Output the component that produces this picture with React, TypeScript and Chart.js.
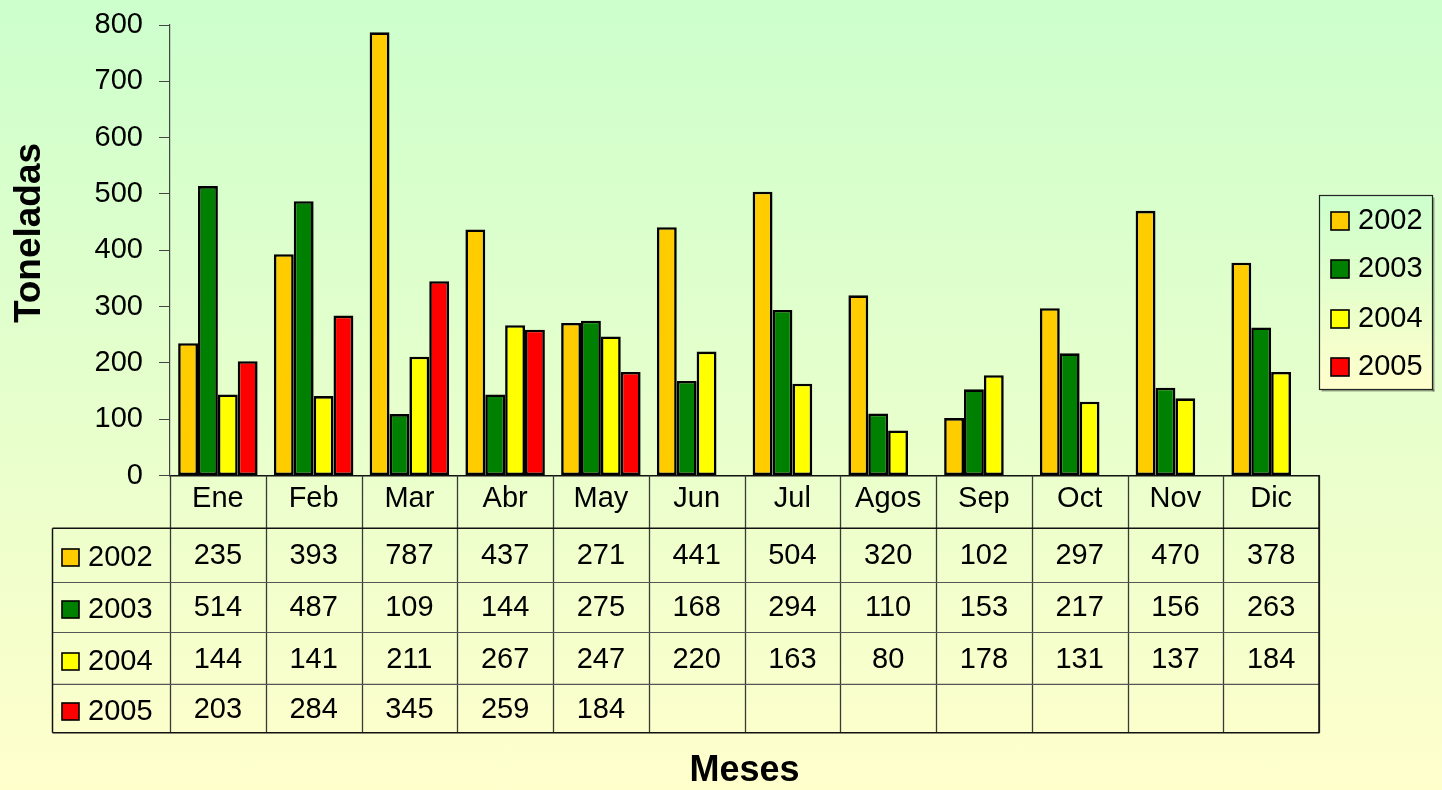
import React, { useEffect, useRef } from "react";
import { Chart, registerables } from "chart.js";

Chart.register(...registerables);

// ---------- data ----------
const months = ["Ene", "Feb", "Mar", "Abr", "May", "Jun", "Jul", "Agos", "Sep", "Oct", "Nov", "Dic"];
const seriesNames = ["2002", "2003", "2004", "2005"];
const values2002 = [235, 393, 787, 437, 271, 441, 504, 320, 102, 297, 470, 378];
const values2003 = [514, 487, 109, 144, 275, 168, 294, 110, 153, 217, 156, 263];
const values2004 = [144, 141, 211, 267, 247, 220, 163, 80, 178, 131, 137, 184];
const values2005: (number | null)[] = [203, 284, 345, 259, 184, null, null, null, null, null, null, null];
const seriesColors = ["#FFCC00", "#008000", "#FFFF00", "#FF0000"];
const yMin = 0;
const yMax = 800;
const yStep = 100;
const yTitle = "Toneladas";
const xTitle = "Meses";

const allSeries = [values2002, values2003, values2004, values2005];

const FONT = '"Liberation Sans", Arial, Helvetica, sans-serif';

// ---------- custom drawing: data table, legend, titles ----------
const excelPlugin = {
  id: "excelExtras",
  afterDraw(chart: any) {
    const ctx: CanvasRenderingContext2D = chart.ctx;
    const area = chart.chartArea;
    const xScale = chart.scales.x;
    const n = months.length;
    const cw = (area.right - area.left) / n;
    const rowLines = [528.3, 582.5, 632.5, 684.3, 732.7];
    const baselines = [564, 616, 668, 718];
    const tableLeft = 52.5;
    const headerTop = area.bottom;

    ctx.save();
    const line = (x1: number, y1: number, x2: number, y2: number) => {
      ctx.beginPath();
      ctx.moveTo(x1, y1);
      ctx.lineTo(x2, y2);
      ctx.stroke();
    };

    // vertical separators
    ctx.strokeStyle = "#3a3a3a";
    ctx.lineWidth = 1.3;
    for (let i = 0; i <= n; i++) {
      const x = Math.round(area.left + i * cw) + 0.5;
      line(x, headerTop, x, rowLines[4]);
    }
    // row separators
    ctx.strokeStyle = "#555";
    ctx.lineWidth = 1.2;
    for (let r = 1; r < 4; r++) line(tableLeft, rowLines[r], area.right, rowLines[r]);
    // outer
    ctx.strokeStyle = "#111";
    ctx.lineWidth = 1.5;
    line(tableLeft, rowLines[0], area.right, rowLines[0]);
    line(tableLeft, rowLines[4], area.right + 0.5, rowLines[4]);
    line(tableLeft, rowLines[0], tableLeft, rowLines[4]);
    line(area.right, headerTop, area.right, rowLines[4]);

    // rows
    ctx.font = `29px ${FONT}`;
    ctx.fillStyle = "#000";
    ctx.textBaseline = "alphabetic";
    for (let s = 0; s < seriesNames.length; s++) {
      const b = baselines[s];
      // key
      ctx.fillStyle = seriesColors[s];
      ctx.fillRect(62, b - 15, 17, 17);
      ctx.strokeStyle = "#000";
      ctx.lineWidth = 1.6;
      ctx.strokeRect(62, b - 15, 17, 17);
      ctx.fillStyle = "#000";
      ctx.textAlign = "left";
      ctx.fillText(seriesNames[s], 88, b + 2);
      ctx.textAlign = "center";
      const vals = allSeries[s];
      for (let i = 0; i < n; i++) {
        const v = vals[i];
        if (v === null || v === undefined) continue;
        ctx.fillText(String(v), xScale.getPixelForValue(i), b);
      }
    }

    // legend box
    const lx = 1319.5, ly = 195.5, lw = 113, lh = 194;
    ctx.fillStyle = "rgba(0,0,0,0.35)";
    ctx.fillRect(lx + 2, ly + lh, lw, 2);
    ctx.fillRect(lx + lw, ly + 2, 2, lh);
    const g = ctx.createLinearGradient(0, ly, 0, ly + lh);
    g.addColorStop(0, "#CCFFCC");
    g.addColorStop(1, "#FFFFCC");
    ctx.fillStyle = g;
    ctx.fillRect(lx, ly, lw, lh);
    ctx.strokeStyle = "#222";
    ctx.lineWidth = 1.2;
    ctx.strokeRect(lx, ly, lw, lh);
    const legBase = [229, 277, 327, 375];
    ctx.font = `29px ${FONT}`;
    ctx.textAlign = "left";
    for (let s = 0; s < seriesNames.length; s++) {
      const b = legBase[s];
      ctx.fillStyle = seriesColors[s];
      ctx.fillRect(1331, b - 17, 18, 18);
      ctx.strokeStyle = "#000";
      ctx.lineWidth = 1.6;
      ctx.strokeRect(1331, b - 17, 18, 18);
      ctx.fillStyle = "#000";
      ctx.fillText(seriesNames[s], 1358, b);
    }

    // axis titles
    ctx.fillStyle = "#000";
    ctx.font = `bold 36px ${FONT}`;
    ctx.textAlign = "center";
    ctx.textBaseline = "alphabetic";
    ctx.fillText(xTitle, (area.left + area.right) / 2, 781);

    ctx.save();
    ctx.translate(40, 233);
    ctx.rotate(-Math.PI / 2);
    ctx.font = `bold 37px ${FONT}`;
    ctx.fillText(yTitle, 0, 0);
    ctx.restore();

    ctx.restore();
  },
};

export default function App() {
  const canvasRef = useRef<HTMLCanvasElement | null>(null);

  useEffect(() => {
    const canvas = canvasRef.current;
    if (!canvas) return;
    const chart = new Chart(canvas, {
      type: "bar",
      data: {
        labels: months,
        datasets: seriesNames.map((name, i) => ({
          label: name,
          data: allSeries[i],
          backgroundColor: seriesColors[i],
          borderColor: "#000",
          borderWidth: 2.6,
          borderSkipped: false,
          categoryPercentage: 0.83,
          barPercentage: 1.0,
        })),
      },
      plugins: [excelPlugin],
      options: {
        responsive: false,
        animation: false,
        devicePixelRatio: 1,
        layout: { padding: { left: 0, top: 25, right: 123, bottom: 0 } },
        plugins: {
          legend: { display: false },
          tooltip: { enabled: false },
          title: { display: false },
        },
        scales: {
          x: {
            offset: true,
            grid: { display: false },
            border: { display: true, color: "#111", width: 1.5 },
            ticks: {
              color: "#000",
              font: { family: FONT, size: 29 },
              padding: -2,
              maxRotation: 0,
              autoSkip: false,
            },
            afterFit: (scale: any) => {
              scale.height = 790 - 475.5;
            },
          },
          y: {
            min: yMin,
            max: yMax,
            ticks: {
              stepSize: yStep,
              color: "#000",
              font: { family: FONT, size: 29 },
              padding: 16,
            },
            grid: {
              display: true,
              drawOnChartArea: false,
              drawTicks: true,
              tickLength: 11,
              color: "#444",
              lineWidth: 1,
            },
            border: { display: true, color: "#444", width: 1.2 },
            afterFit: (scale: any) => {
              scale.width = 170;
              scale.paddingTop = 0;
              scale.paddingBottom = 0;
            },
          },
        },
      },
    });
    return () => chart.destroy();
  }, []);

  return (
    <div
      style={{
        position: "absolute",
        left: 0,
        top: 0,
        width: 1442,
        height: 790,
        overflow: "hidden",
        background: "linear-gradient(to bottom, #CCFFCC 0%, #FFFFCC 100%)",
      }}
    >
      <canvas ref={canvasRef} width={1442} height={790} style={{ display: "block", width: 1442, height: 790 }} />
    </div>
  );
}
